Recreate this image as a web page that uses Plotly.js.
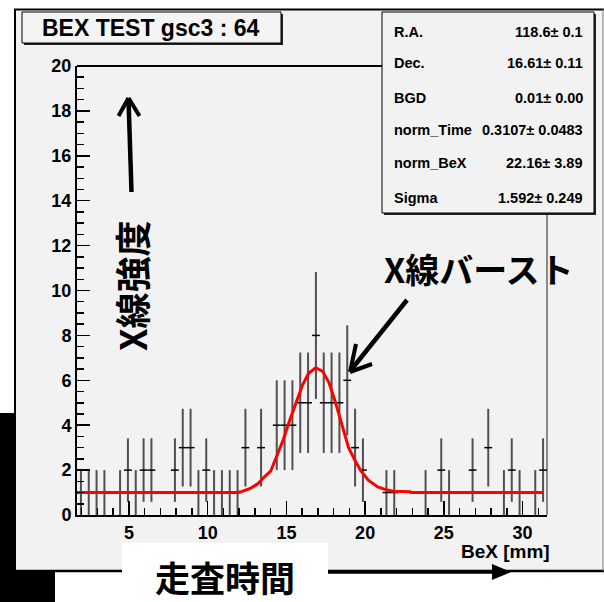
<!DOCTYPE html>
<html><head><meta charset="utf-8">
<script src="https://cdn.plot.ly/plotly-3.0.1.min.js"></script>
<style>html,body{margin:0;padding:0;background:#fff}#chart{width:604px;height:602px}</style>
</head><body><div id="chart"></div>
<script>
// ---- data ----
const xMin = 1.7, xMax = 31.55;           // histogram / axis range (BeX mm)
const binCounts = [1,1,1,1,0,1,2,1,2,2, 0,0,2,3,3,1,2,1,1,1,
                   1,3,0,3,0,4,4,4,5,5, 8,5,5,5,6,3,2,0,0,1,
                   1,0,0,0,1,0,2,1,0,0, 2,0,3,0,1,2,1,0,1,2];
const fitX = [1.7,11.9,12.2,12.7,13.2,13.6,14.0,14.4,14.8,15.2,15.6,16.0,16.4,16.86,17.3,17.7,18.1,18.5,18.95,19.3,19.7,20.2,20.8,21.4,21.8,22.86,22.9,31.3];
const fitY = [1.0,1.0,1.05,1.18,1.4,1.7,1.95,2.65,3.35,4.2,5.0,5.75,6.3,6.56,6.4,5.9,5.05,4.1,3.0,2.5,2.0,1.55,1.25,1.11,1.06,1.04,1.0,1.0];
const statLabels = ['R.A.','Dec.','BGD','norm_Time','norm_BeX','Sigma'];
const statValues = ['118.6± 0.1','16.61± 0.11','0.01± 0.00','0.3107± 0.0483','22.16± 3.89','1.592± 0.249'];
const titleText = 'BEX TEST gsc3 : 64';
const xTitleText = 'BeX [mm]';
const yNote = 'X線強度';
const burstNote = 'X線バースト';
const timeNote = '走査時間';

// ---- derived ----
const nb = binCounts.length, bw = (xMax - xMin) / nb;
const hx = [], hy = [], he = [];
binCounts.forEach((c, i) => { if (c > 0) { hx.push(xMin + (i + 0.5) * bw); hy.push(c); he.push(Math.sqrt(c)); } });

const FW = 604, FH = 602;
const M = {l: 77, r: 57, t: 66, b: 87};
const W = FW - M.l - M.r, H = FH - M.t - M.b;
const X = px => (px - M.l) / W;
const Y = py => (FH - M.b - py) / H;

const bold = 'Liberation Sans, Arial, sans-serif';
const cjk = 'Noto Sans CJK JP, sans-serif';

function rect(x0, y0, x1, y1, fill, line, layer) {
  return {type: 'rect', xref: 'paper', yref: 'paper', x0: X(x0), x1: X(x1), y0: Y(y0), y1: Y(y1),
    fillcolor: fill, line: line || {width: 0}, layer: layer || 'below'};
}
function seg(x0, y0, x1, y1, color, width, layer) {
  return {type: 'line', xref: 'paper', yref: 'paper', x0: X(x0), x1: X(x1), y0: Y(y0), y1: Y(y1),
    line: {color: color, width: width}, layer: layer || 'below'};
}

const shapes = [
  rect(0, 413, 55, 602, '#000000'),
  rect(14, 9, 603, 571, '#f2f2f2'),
  seg(14, 9.5, 604, 9.5, '#000', 2),
  seg(15, 9, 15, 571, '#000', 2),
  seg(14, 571, 604, 571, '#000', 2.5),
  seg(603, 9, 603, 571, '#777', 1),
  rect(122, 543, 328, 602, '#ffffff'),
  // frame top and right
  seg(77, 66, 547, 66, '#000', 2),
  seg(547, 66, 547, 515, '#666', 1.5),
  // title box
  rect(24, 14, 283, 45, '#222'),
  rect(22, 12, 281, 43, '#f4f4f4', {color: '#000', width: 1}),
  // stats box
  rect(384, 14, 596, 215, '#222'),
  rect(382, 12, 594, 213, '#f2f2f2', {color: '#000', width: 1}),
  // arrow up (X線強度)
  seg(131.5, 192, 128.5, 99, '#000', 4.5, 'above'),
  seg(128.5, 98, 118.5, 116, '#000', 4, 'above'),
  seg(128.5, 98, 139.5, 116, '#000', 4, 'above'),
  // arrow to burst
  seg(407, 300, 351, 370, '#000', 4.5, 'above'),
  seg(350, 372, 356, 344, '#000', 4, 'above'),
  seg(350, 372, 372, 364, '#000', 4, 'above'),
  // time arrow
  seg(328, 572, 497, 572, '#000', 3.5, 'above'),
  {type: 'path', xref: 'paper', yref: 'paper', layer: 'above', fillcolor: '#000', line: {width: 0},
   path: `M ${X(511)} ${Y(572)} L ${X(492)} ${Y(564)} L ${X(492)} ${Y(580)} Z`}
];

const annotations = [
  {xref: 'paper', yref: 'paper', x: X(151), y: Y(28), text: titleText, showarrow: false,
   font: {family: bold, size: 23, color: '#000', weight: 'bold'}, xanchor: 'center', yanchor: 'middle'},
  {xref: 'paper', yref: 'paper', x: X(552), y: Y(551), text: xTitleText, showarrow: false,
   font: {family: bold, size: 19, color: '#000', weight: 'bold'}, xanchor: 'right', yanchor: 'middle'},
  {xref: 'paper', yref: 'paper', x: X(131), y: Y(286), text: yNote, showarrow: false, textangle: -90,
   font: {family: cjk, size: 36, color: '#000', weight: 'bold'}, xanchor: 'center', yanchor: 'middle'},
  {xref: 'paper', yref: 'paper', x: X(479), y: Y(268), text: burstNote, showarrow: false,
   font: {family: cjk, size: 34, color: '#000', weight: 'bold'}, xanchor: 'center', yanchor: 'middle'},
  {xref: 'paper', yref: 'paper', x: X(225), y: Y(576), text: timeNote, showarrow: false,
   font: {family: cjk, size: 35, color: '#000', weight: 'bold'}, xanchor: 'center', yanchor: 'middle'}
];
const rowY = [32, 63, 98, 130, 163, 198];
statLabels.forEach((s, i) => {
  annotations.push({xref: 'paper', yref: 'paper', x: X(392), y: Y(rowY[i]), text: s, showarrow: false,
    font: {family: bold, size: 14.5, color: '#000', weight: 'bold'}, xanchor: 'left', yanchor: 'middle'});
  annotations.push({xref: 'paper', yref: 'paper', x: X(585), y: Y(rowY[i]), text: statValues[i], showarrow: false,
    font: {family: bold, size: 14.5, color: '#000', weight: 'bold'}, xanchor: 'right', yanchor: 'middle'});
});

const traces = [
  {type: 'scatter', mode: 'markers', x: hx, y: hy, marker: {size: 1, color: 'rgba(0,0,0,0)'},
   error_y: {type: 'data', array: he, symmetric: true, width: 0, thickness: 2, color: '#505050'},
   error_x: {type: 'constant', value: bw / 2, width: 0, thickness: 1.5, color: '#000'},
   hoverinfo: 'skip', showlegend: false},
  {type: 'scatter', mode: 'lines', x: fitX, y: fitY, line: {color: '#ff0000', width: 3},
   hoverinfo: 'skip', showlegend: false}
];

const tickFont = {family: bold, size: 18, color: '#000', weight: 'bold'};
const layout = {
  width: FW, height: FH, margin: M,
  paper_bgcolor: '#ffffff', plot_bgcolor: 'rgba(0,0,0,0)',
  showlegend: false,
  xaxis: {range: [xMin, xMax], showgrid: false, zeroline: false, showline: true, linecolor: '#000', linewidth: 2,
    ticks: 'inside', ticklen: 14, tickwidth: 1.5, tickcolor: '#000', tick0: 0, dtick: 5, tickfont: tickFont,
    minor: {ticks: 'inside', ticklen: 7, tickwidth: 1.5, tickcolor: '#000', dtick: 1, tick0: 0, showgrid: false}},
  yaxis: {range: [0, 20], showgrid: false, zeroline: false, showline: true, linecolor: '#000', linewidth: 2,
    ticks: 'inside', ticklen: 13, tickwidth: 1.5, tickcolor: '#000', tick0: 0, dtick: 2, tickfont: tickFont,
    minor: {ticks: 'inside', ticklen: 7, tickwidth: 1.5, tickcolor: '#000', dtick: 0.5, tick0: 0, showgrid: false}},
  shapes: shapes, annotations: annotations
};
Plotly.newPlot('chart', traces, layout, {displayModeBar: false, staticPlot: true});
</script></body></html>
